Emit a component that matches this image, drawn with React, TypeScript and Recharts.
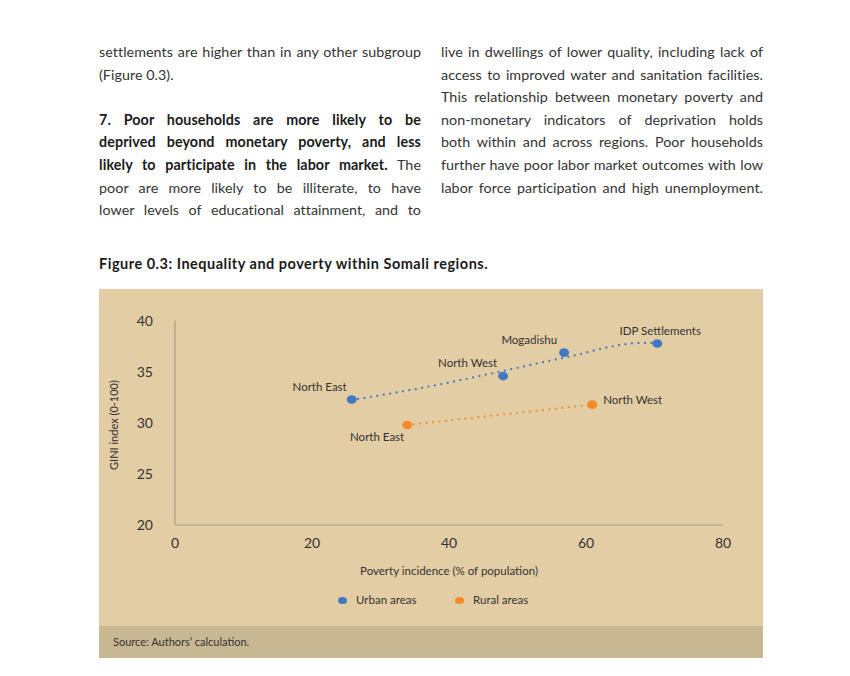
import React from "react";
import { ScatterChart, Scatter, XAxis, YAxis, Label } from "recharts";

// Figure 0.3 values
const urbanRegions = ["North East", "North West", "Mogadishu", "IDP Settlements"];
const urbanPoverty = [25.8, 47.9, 56.8, 70.4];
const urbanGini = [32.3, 34.6, 36.9, 37.8];

const ruralRegions = ["North East", "North West"];
const ruralPoverty = [33.9, 60.9];
const ruralGini = [29.8, 31.8];

// dotted trend lines as drawn in the figure
const urbanTrendPoverty = [25.8, 36.5, 47.9, 56.8, 68.3, 70.4];
const urbanTrendGini = [32.25, 33.5, 35.1, 36.4, 37.85, 37.85];
const ruralTrendPoverty = [33.9, 60.9];
const ruralTrendGini = [29.8, 31.8];

const xTicks = [0, 20, 40, 60, 80];
const yTicks = [20, 25, 30, 35, 40];

const BLUE = "#4278c2";
const ORANGE = "#f58a2a";
const PANEL = "#e3cda5";
const FOOTER = "#c8b793";
const TEXT = "#333";
const FONT = "Lato, 'Open Sans', sans-serif";

const toPoints = (xs: number[], ys: number[], names?: string[]) =>
  xs.map((x, i) => ({ x, y: ys[i], name: names ? names[i] : "" }));

const urbanData = toPoints(urbanPoverty, urbanGini, urbanRegions);
const ruralData = toPoints(ruralPoverty, ruralGini, ruralRegions);
const urbanTrend = toPoints(urbanTrendPoverty, urbanTrendGini);
const ruralTrend = toPoints(ruralTrendPoverty, ruralTrendGini);

type Place = { dx: number; dy: number; anchor: "start" | "middle" | "end" };
const labelPlace: Record<string, Place> = {
  "urban-North East": { dx: -5, dy: -13, anchor: "end" },
  "urban-North West": { dx: -6, dy: -14, anchor: "end" },
  "urban-Mogadishu": { dx: -7, dy: -13, anchor: "end" },
  "urban-IDP Settlements": { dx: 3, dy: -13, anchor: "middle" },
  "rural-North East": { dx: -3, dy: 11, anchor: "end" },
  "rural-North West": { dx: 11, dy: -5, anchor: "start" },
};

const makeDot = (series: string, color: string) => (props: any) => {
  const { cx, cy, payload } = props;
  const p = labelPlace[`${series}-${payload.name}`];
  return (
    <g>
      <ellipse cx={cx} cy={cy} rx={5} ry={4.3} fill={color} />
      {p && (
        <text
          x={cx + p.dx}
          y={cy + p.dy}
          textAnchor={p.anchor}
          dominantBaseline="central"
          fontSize={11.5}
          fontFamily={FONT}
          fill={TEXT}
        >
          {payload.name}
        </text>
      )}
    </g>
  );
};

const noShape = () => <g />;

const dotted = (color: string) => ({
  stroke: color,
  strokeWidth: 2.3,
  strokeDasharray: "0 6.5",
  strokeLinecap: "round" as const,
});

const leftLines = [
  { t: "settlements are higher than in any other subgroup", j: true },
  { t: "(Figure 0.3).", j: false },
  { t: "\u00a0", j: false },
];
const leftPara = [
  { b: "7. Poor households are more likely to be", t: "" },
  { b: "deprived beyond monetary poverty, and less", t: "" },
  { b: "likely to participate in the labor market.", t: " The" },
  { b: "", t: "poor are more likely to be illiterate, to have" },
  { b: "", t: "lower levels of educational attainment, and to" },
];
const rightLines = [
  "live in dwellings of lower quality, including lack of",
  "access to improved water and sanitation facilities.",
  "This relationship between monetary poverty and",
  "non-monetary indicators of deprivation holds",
  "both within and across regions. Poor households",
  "further have poor labor market outcomes with low",
  "labor force participation and high unemployment.",
];

const lineStyle = (justify: boolean): React.CSSProperties => ({
  textAlign: justify ? "justify" : "left",
  textAlignLast: justify ? "justify" : "left",
  height: 22.6,
  whiteSpace: "nowrap",
});

export default function App() {
  const colStyle: React.CSSProperties = {
    position: "absolute",
    top: 41,
    width: 322,
    fontSize: 14.3,
    letterSpacing: 0.05,
    lineHeight: "22.6px",
    color: TEXT,
    fontFamily: FONT,
  };
  return (
    <div
      style={{
        position: "absolute",
        left: 0,
        top: 0,
        width: 850,
        height: 676,
        background: "#fff",
        fontFamily: FONT,
      }}
    >
      <div style={{ ...colStyle, left: 99 }}>
        {leftLines.map((l, i) => (
          <div key={i} style={lineStyle(l.j)}>
            {l.t}
          </div>
        ))}
        {leftPara.map((l, i) => (
          <div key={i} style={lineStyle(true)}>
            {l.b && <b style={{ color: "#1a1a1a", letterSpacing: 0.1 }}>{l.b}</b>}
            {l.t}
          </div>
        ))}
      </div>
      <div style={{ ...colStyle, left: 441 }}>
        {rightLines.map((l, i) => (
          <div key={i} style={lineStyle(true)}>
            {l}
          </div>
        ))}
      </div>

      <div
        style={{
          position: "absolute",
          left: 99,
          top: 255,
          fontSize: 14.5,
          letterSpacing: 0.5,
          fontWeight: 700,
          color: "#1a1a1a",
        }}
      >
        Figure 0.3: Inequality and poverty within Somali regions.
      </div>

      <div
        style={{
          position: "absolute",
          left: 99,
          top: 289,
          width: 664,
          height: 369,
          background: PANEL,
        }}
      >
        <ScatterChart
          width={664}
          height={337}
          margin={{ top: 32, right: 40, bottom: 0, left: 0 }}
        >
          <XAxis
            type="number"
            dataKey="x"
            domain={[0, 80]}
            ticks={xTicks}
            tickLine={false}
            tickSize={0}
            tickMargin={13}
            axisLine={{ stroke: "#a49d8e", strokeWidth: 1.2 }}
            tick={{ fontSize: 14, fill: TEXT, fontFamily: FONT }}
            height={101}
          >
            <Label
              content={({ viewBox }: any) => (
                <text
                  x={viewBox.x + viewBox.width / 2}
                  y={viewBox.y + 45}
                  textAnchor="middle"
                  dominantBaseline="central"
                  fontSize={11.5}
                  fontFamily={FONT}
                  fill={TEXT}
                >
                  Poverty incidence (% of population)
                </text>
              )}
            />
          </XAxis>
          <YAxis
            type="number"
            dataKey="y"
            domain={[20, 40]}
            ticks={yTicks}
            tickLine={false}
            tickSize={0}
            tickMargin={22}
            axisLine={{ stroke: "#a49d8e", strokeWidth: 1.2 }}
            tick={{ fontSize: 14, fill: TEXT, fontFamily: FONT }}
            width={76}
          >
            <Label
              content={({ viewBox }: any) => {
                const x = viewBox.x + 14;
                const y = viewBox.y + viewBox.height / 2 + 2;
                return (
                  <text
                    x={x}
                    y={y}
                    transform={`rotate(-90 ${x} ${y})`}
                    textAnchor="middle"
                    dominantBaseline="central"
                    fontSize={11}
                    fontFamily={FONT}
                    fill={TEXT}
                  >
                    GINI index (0-100)
                  </text>
                );
              }}
            />
          </YAxis>
          <Scatter
            data={urbanTrend}
            line={dotted(BLUE)}
            lineJointType="monotoneX"
            shape={noShape}
            isAnimationActive={false}
          />
          <Scatter
            data={ruralTrend}
            line={dotted(ORANGE)}
            shape={noShape}
            isAnimationActive={false}
          />
          <Scatter
            name="Urban areas"
            data={urbanData}
            fill={BLUE}
            shape={makeDot("urban", BLUE)}
            isAnimationActive={false}
          />
          <Scatter
            name="Rural areas"
            data={ruralData}
            fill={ORANGE}
            shape={makeDot("rural", ORANGE)}
            isAnimationActive={false}
          />
        </ScatterChart>

        {/* legend */}
        {[
          { name: "Urban areas", color: BLUE, dot: 243, text: 257 },
          { name: "Rural areas", color: ORANGE, dot: 360, text: 374 },
        ].map((l) => (
          <React.Fragment key={l.name}>
            <span
              style={{
                position: "absolute",
                left: l.dot - 4.5,
                top: 307.5,
                width: 9,
                height: 7,
                borderRadius: "50%",
                background: l.color,
              }}
            />
            <span
              style={{
                position: "absolute",
                left: l.text,
                top: 303,
                fontSize: 11.5,
                lineHeight: "16px",
                color: TEXT,
              }}
            >
              {l.name}
            </span>
          </React.Fragment>
        ))}

        <div
          style={{
            position: "absolute",
            left: 0,
            top: 337,
            width: 664,
            height: 32,
            background: FOOTER,
          }}
        >
          <span
            style={{
              position: "absolute",
              left: 14,
              top: 8,
              fontSize: 11,
              lineHeight: "16px",
              color: TEXT,
            }}
          >
            Source: Authors’ calculation.
          </span>
        </div>
      </div>
    </div>
  );
}
